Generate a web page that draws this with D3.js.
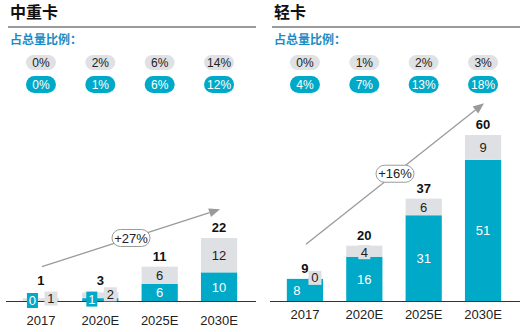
<!DOCTYPE html>
<html>
<head>
<meta charset="utf-8">
<script src="https://cdn.jsdelivr.net/npm/d3@7/dist/d3.min.js"></script>
<style>
  html, body { margin: 0; padding: 0; background: #fff; }
  svg { display: block; }
  text { font-family: "Liberation Sans Narrow", "Liberation Sans", Arial, sans-serif; }
  .cjk { font-family: "Noto Sans CJK SC", sans-serif; }
</style>
</head>
<body>
<svg id="chart" width="520" height="332"></svg>
<script>
// Sales volume (10k units): battery-electric (blue) and other (gray) per year
const years = ["2017", "2020E", "2025E", "2030E"];

const heavyTitle = "中重卡";
const heavyBlue = [0, 1, 6, 10];
const heavyGray = [1, 2, 6, 12];
const heavyTotal = [1, 3, 11, 22];
const heavyShareGray = ["0%", "2%", "6%", "14%"];
const heavyShareBlue = ["0%", "1%", "6%", "12%"];
const heavyCagr = "+27%";

const lightTitle = "轻卡";
const lightBlue = [8, 16, 31, 51];
const lightGray = [0, 4, 6, 9];
const lightTotal = [9, 20, 37, 60];
const lightShareGray = ["0%", "1%", "2%", "3%"];
const lightShareBlue = ["4%", "7%", "13%", "18%"];
const lightCagr = "+16%";

const shareLabel = "占总量比例：";

const BLUE = "#00a9c8";
const GRAY = "#dfe0e3";
const svg = d3.select("#chart");

function panel(opt) {
  const g = svg.append("g");
  const x = d3.scaleBand().domain(years).range([opt.x0, opt.x0 + 244]).paddingInner(0.39).paddingOuter(0.25);
  const y = d3.scaleLinear().domain([0, opt.yMax]).range([opt.base, opt.yTop]);
  const cx = d => x(d) + x.bandwidth() / 2;

  // heading, rule and share caption
  g.append("text").attr("class", "cjk").attr("x", opt.x0 + 2).attr("y", 18)
    .attr("font-size", 16).attr("font-weight", 700).attr("fill", "#111").text(opt.title);
  g.append("line").attr("x1", opt.x0).attr("x2", opt.x0 + opt.ruleW).attr("y1", 27).attr("y2", 27)
    .attr("stroke", "#9a9a9a").attr("stroke-width", 2);
  g.append("text").attr("class", "cjk").attr("x", opt.x0 + 2).attr("y", 44)
    .attr("font-size", 12).attr("font-weight", 700).attr("fill", "#1a8cc4").text(shareLabel);

  // share pills
  const pills = [
    { vals: opt.shareGray, cy: 62.5, h: 15, fill: "#e0e1e4", color: "#222" },
    { vals: opt.shareBlue, cy: 84.5, h: 17, fill: BLUE, color: "#fff" }
  ];
  pills.forEach(p => {
    const pg = g.selectAll(null).data(years).enter().append("g");
    pg.append("rect").attr("x", d => cx(d) - 15).attr("y", p.cy - p.h / 2)
      .attr("width", 30).attr("height", p.h).attr("rx", p.h / 2).attr("fill", p.fill);
    pg.append("text").attr("x", d => cx(d)).attr("y", p.cy + 4.5).attr("text-anchor", "middle")
      .attr("font-size", 12).attr("fill", p.color).text((d, i) => p.vals[i]);
  });

  // stacked bars
  const bw = x.bandwidth();
  years.forEach((yr, i) => {
    const b = opt.blue[i], gr = opt.gray[i];
    g.append("rect").attr("x", x(yr)).attr("width", bw)
      .attr("y", y(b)).attr("height", y(0) - y(b)).attr("fill", BLUE);
    g.append("rect").attr("x", x(yr)).attr("width", bw)
      .attr("y", y(b + gr)).attr("height", y(b) - y(b + gr)).attr("fill", GRAY);
  });

  // baseline
  g.append("line").attr("x1", opt.x0 - 2).attr("x2", opt.x0 + opt.ruleW).attr("y1", opt.base + 0.5).attr("y2", opt.base + 0.5)
    .attr("stroke", "#333").attr("stroke-width", 1);

  // segment labels: tiny segments get a boxed label beside the bar
  years.forEach((yr, i) => {
    const b = opt.blue[i], gr = opt.gray[i];
    const hb = y(0) - y(b), hg = y(b) - y(b + gr);
    const tinyB = hb < 6, tinyG = hg < 6;
    const boxLabel = (lx, ly, txt, fill, color, w, h) => {
      g.append("rect").attr("x", lx - w / 2).attr("y", ly - h / 2).attr("width", w).attr("height", h).attr("fill", fill);
      g.append("text").attr("x", lx).attr("y", ly + 4.5).attr("text-anchor", "middle")
        .attr("font-size", 13).attr("fill", color).text(txt);
    };
    // blue
    if (tinyB) {
      boxLabel(cx(yr) - 8.5, (y(0) + y(b)) / 2 - 0.5, b, BLUE, "#fff", 11, 15);
    } else {
      g.append("text").attr("x", cx(yr) - (tinyG ? 8 : 0)).attr("y", (y(0) + y(b)) / 2 + 5)
        .attr("text-anchor", "middle").attr("font-size", 13).attr("fill", "#fff").text(b);
    }
    // gray
    if (tinyG) {
      boxLabel(cx(yr) + 10, (y(b) + y(b + gr)) / 2 - 1, gr, GRAY, "#222", 13, 14);
    } else if (hg < 14) {
      boxLabel(cx(yr), (y(b) + y(b + gr)) / 2 + 1, gr, GRAY, "#222", 12, 14);
    } else {
      g.append("text").attr("x", cx(yr)).attr("y", (y(b) + y(b + gr)) / 2 + 5)
        .attr("text-anchor", "middle").attr("font-size", 13).attr("fill", "#222").text(gr);
    }
    // total
    g.append("text").attr("x", cx(yr)).attr("y", Math.min(y(b + gr), opt.base - 10) - 6)
      .attr("text-anchor", "middle").attr("font-size", 13).attr("font-weight", 700).attr("fill", "#111")
      .text(opt.total[i]);
  });

  // year axis labels
  const axis = d3.axisBottom(x).tickSize(0).tickPadding(0);
  const ax = g.append("g").attr("transform", `translate(0,${opt.yearY})`).call(axis);
  ax.select(".domain").remove();
  ax.selectAll("text").attr("font-size", 13).attr("fill", "#222")
    .style("font-family", "'Liberation Sans Narrow', 'Liberation Sans', Arial, sans-serif");

  // growth arrow with CAGR pill
  const x1 = cx(years[0]) + 1, y1 = y(opt.arrowFrom);
  const x2 = cx(years[3]) + 1, y2 = y(opt.arrowTo);
  const ang = Math.atan2(y2 - y1, x2 - x1);
  const hl = 11, hw = 4.5;
  const lx = x2 - hl * Math.cos(ang), ly = y2 - hl * Math.sin(ang);
  g.append("line").attr("x1", x1).attr("y1", y1).attr("x2", lx).attr("y2", ly)
    .attr("stroke", "#9a9a9a").attr("stroke-width", 1.3);
  g.append("path").attr("d", d3.line()([
    [x2, y2],
    [lx + hw * Math.sin(ang), ly - hw * Math.cos(ang)],
    [lx - hw * Math.sin(ang), ly + hw * Math.cos(ang)]
  ]) + "Z").attr("fill", "#9a9a9a");
  const mx = (x1 + x2) / 2, my = (y1 + y2) / 2;
  g.append("rect").attr("x", mx - 19).attr("y", my - 8.5).attr("width", 38).attr("height", 17).attr("rx", 8.5)
    .attr("fill", "#fff").attr("stroke", "#9a9a9a").attr("stroke-width", 1);
  g.append("text").attr("x", mx).attr("y", my + 4.5).attr("text-anchor", "middle")
    .attr("font-size", 13).attr("fill", "#222").text(opt.cagr);
}

panel({
  x0: 8, ruleW: 248, title: heavyTitle, yMax: 22, base: 301, yTop: 238, yearY: 316,
  blue: heavyBlue, gray: heavyGray, total: heavyTotal,
  shareGray: heavyShareGray, shareBlue: heavyShareBlue, cagr: heavyCagr,
  arrowFrom: 12, arrowTo: 32
});
panel({
  x0: 272, ruleW: 248, title: lightTitle, yMax: 60, base: 301, yTop: 135, yearY: 310,
  blue: lightBlue, gray: lightGray, total: lightTotal,
  shareGray: lightShareGray, shareBlue: lightShareBlue, cagr: lightCagr,
  arrowFrom: 20.5, arrowTo: 71.5
});
</script>
</body>
</html>
